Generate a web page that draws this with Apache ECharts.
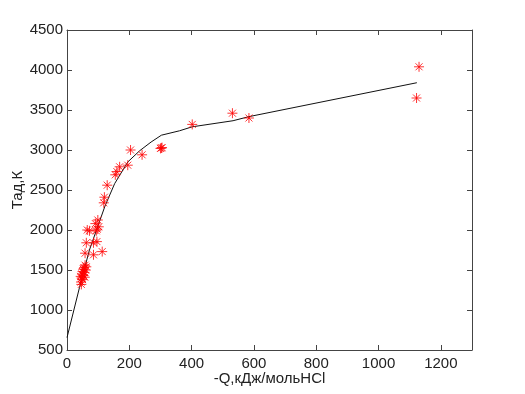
<!DOCTYPE html>
<html><head><meta charset="utf-8">
<script src="https://cdn.jsdelivr.net/npm/echarts@6/dist/echarts.min.js"></script>
<style>html,body{margin:0;padding:0;background:#fff}#c{width:525px;height:394px}</style>
</head><body><div id="c"></div>
<script>
var xTicks = [0, 200, 400, 600, 800, 1000, 1200];
var yTicks = [500, 1000, 1500, 2000, 2500, 3000, 3500, 4000, 4500];
var xName = '-Q,кДж/мольHCl';
var yName = 'Тад,К';
// measured points (-Q, Tad)
var measured = [
  [1130,4040],[1122,3650],[584,3400],[531,3460],[402,3320],
  [300,3020],[305,3030],[303,3025],[241,2940],[204,3000],
  [195,2810],[169,2790],[155,2690],[160,2730],[129,2560],[120,2410],[118,2340],
  [99,2125],[91,2080],[102,2040],[94,1990],[97,2010],[65,2000],[72,1990],
  [62,1840],[85,1840],[96,1855],[58,1710],[85,1690],[113,1730],
  [45,1350],[47,1400],[48,1450],[50,1480],[52,1510],[55,1530],[58,1560],
  [50,1380],[53,1430],[60,1500],[46,1320],[56,1470],[62,1540],[44,1420],[57,1410]
];
// model curve
var model = [
  [0,655],[40,1280],[72,1750],[122,2300],[153,2580],[195,2850],[233,2990],
  [270,3100],[303,3185],[361,3240],[402,3290],[533,3366],[584,3417],[1123,3841]
];
var star = 'path://M0,-1L0,1M-1,0L1,0M-0.7,-0.7L0.7,0.7M-0.7,0.7L0.7,-0.7';
var font = 'Liberation Sans, Arial, sans-serif';
var axisCol = '#444';
var chart = echarts.init(document.getElementById('c'));
var baseX = {
  type: 'value', min: xTicks[0], max: 1300, interval: 200,
  axisLine: {show: true, onZero: false, lineStyle: {color: axisCol, width: 1}},
  axisTick: {show: true, inside: true, length: 5, lineStyle: {color: axisCol}},
  splitLine: {show: false}
};
var baseY = {
  type: 'value', min: yTicks[0], max: yTicks[yTicks.length-1], interval: 500,
  axisLine: {show: true, onZero: false, lineStyle: {color: axisCol, width: 1}},
  axisTick: {show: true, inside: true, length: 5, lineStyle: {color: axisCol}},
  splitLine: {show: false}
};
chart.setOption({
  animation: false,
  backgroundColor: '#fff',
  grid: {left: 67, top: 30, right: 53, bottom: 44, containLabel: false, outerBoundsMode: 'none'},
  xAxis: [
    Object.assign({}, baseX, {
      position: 'bottom',
      name: xName, nameLocation: 'middle', nameGap: 21, nameMoveOverlap: false,
      nameTextStyle: {fontFamily: font, fontSize: 15, color: '#222'},
      axisLabel: {fontFamily: font, fontSize: 15, color: '#222', margin: 6, showMaxLabel: false,
        formatter: function (v) { return xTicks.indexOf(v) >= 0 ? String(v) : ''; }}
    }),
    Object.assign({}, baseX, {position: 'top', axisLabel: {show: false}})
  ],
  yAxis: [
    Object.assign({}, baseY, {
      position: 'left',
      name: yName, nameLocation: 'middle', nameGap: 42, nameMoveOverlap: false,
      nameTextStyle: {fontFamily: font, fontSize: 15, color: '#222'},
      axisLabel: {fontFamily: font, fontSize: 15, color: '#222', margin: 4,
        formatter: function (v) { return yTicks.indexOf(v) >= 0 ? String(v) : ''; }}
    }),
    Object.assign({}, baseY, {position: 'right', axisLabel: {show: false}})
  ],
  series: [
    {
      type: 'line', data: model, xAxisIndex: 0, yAxisIndex: 0,
      showSymbol: false, symbol: 'none', z: 2,
      lineStyle: {color: '#111', width: 1}
    },
    {
      type: 'scatter', data: measured, xAxisIndex: 0, yAxisIndex: 0,
      symbol: star, symbolSize: 10, z: 3,
      itemStyle: {color: 'none', borderColor: '#ff0000', borderWidth: 1}
    }
  ]
});
</script></body></html>
